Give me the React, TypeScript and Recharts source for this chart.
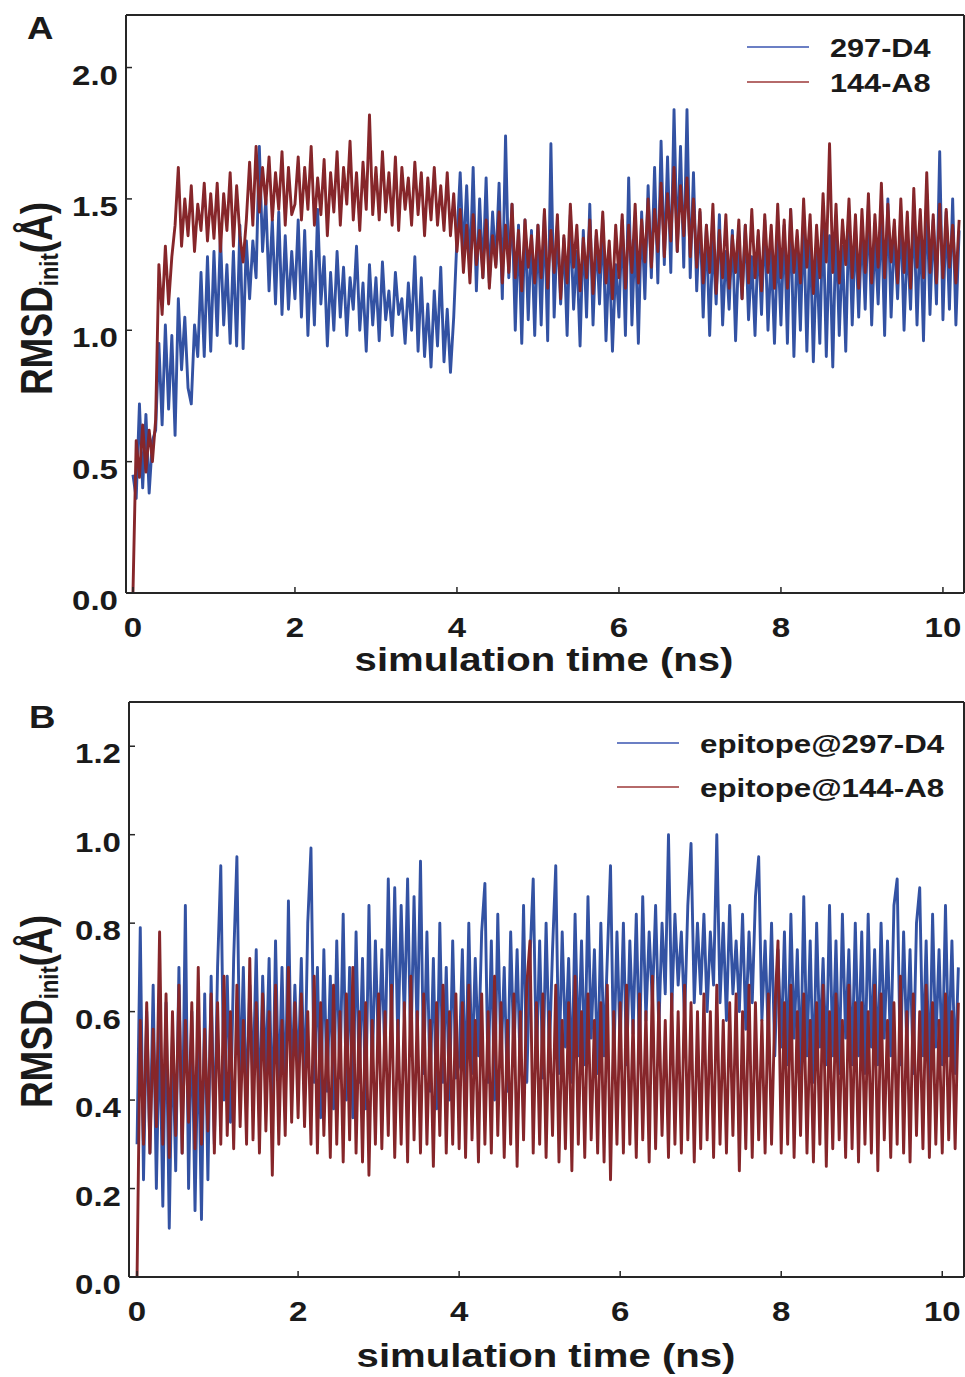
import { LineChart, Line, XAxis, YAxis, Legend } from 'recharts';

// MD frames, one sample every 40 ps
const STEP_NS = 0.04;

/* ------------------------------------------------------------------ */
/*  Panel A: RMSD of the whole complex                                 */
/* ------------------------------------------------------------------ */
const rmsdA_297D4 = [
  0.45, 0.36, 0.72, 0.40, 0.68, 0.38, 0.58, 0.62, 0.95, 0.64, 1.02, 0.70, 0.98, 0.60, 1.12, 0.85, 1.05, 0.78, 0.72, 1.02, 0.90, 1.22, 0.90, 1.28, 0.92,
  1.30, 0.98, 1.36, 1.02, 1.25, 0.95, 1.30, 0.94, 1.40, 0.93, 1.34, 1.12, 1.34, 1.20, 1.70, 1.30, 1.50, 1.15, 1.42, 1.10, 1.45, 1.06, 1.36, 1.08, 1.30,
  1.12, 1.42, 1.05, 1.38, 0.98, 1.30, 1.02, 1.46, 1.10, 1.28, 0.94, 1.22, 1.00, 1.30, 1.05, 1.24, 0.98, 1.20, 1.08, 1.32, 1.00, 1.18, 0.92, 1.25, 1.02,
  1.20, 0.96, 1.26, 1.04, 1.15, 0.98, 1.22, 1.06, 1.12, 0.95, 1.18, 1.00, 1.28, 0.92, 1.20, 0.90, 1.10, 0.86, 1.15, 0.94, 1.24, 0.88, 1.08, 0.84, 1.05,
  1.35, 1.60, 1.28, 1.55, 1.22, 1.62, 1.15, 1.50, 1.20, 1.58, 1.18, 1.45, 1.25, 1.56, 1.12, 1.74, 1.20, 1.48, 1.00, 1.40, 0.95, 1.42, 1.04, 1.38, 0.98,
  1.40, 1.02, 1.45, 0.96, 1.71, 1.05, 1.40, 1.10, 1.35, 0.98, 1.44, 1.08, 1.30, 0.94, 1.38, 1.05, 1.48, 1.02, 1.36, 1.10, 1.42, 0.96, 1.30, 0.92, 1.25,
  1.05, 1.42, 0.98, 1.58, 1.02, 1.38, 0.95, 1.45, 1.12, 1.55, 1.20, 1.62, 1.18, 1.72, 1.25, 1.66, 1.22, 1.84, 1.30, 1.70, 1.24, 1.84, 1.20, 1.60, 1.15,
  1.45, 1.05, 1.40, 0.98, 1.35, 1.10, 1.44, 1.02, 1.30, 1.08, 1.38, 0.96, 1.32, 1.12, 1.40, 1.04, 1.28, 0.98, 1.36, 1.06, 1.42, 1.00, 1.30, 0.95, 1.34,
  1.02, 1.40, 0.95, 1.46, 0.90, 1.35, 1.00, 1.42, 0.92, 1.38, 0.88, 1.30, 0.95, 1.44, 0.90, 1.36, 0.86, 1.40, 0.98, 1.32, 0.92, 1.45, 1.02, 1.38, 1.05,
  1.40, 1.08, 1.48, 1.02, 1.36, 1.10, 1.45, 0.98, 1.50, 1.05, 1.38, 1.12, 1.44, 1.00, 1.35, 1.08, 1.46, 1.02, 1.40, 0.96, 1.52, 1.06, 1.42, 1.10, 1.68,
  1.04, 1.45, 1.08, 1.50, 1.02, 1.38,
];

const rmsdA_144A8 = [
  0.00, 0.58, 0.44, 0.64, 0.46, 0.62, 0.50, 0.66, 1.25, 1.06, 1.32, 1.10, 1.28, 1.40, 1.62, 1.32, 1.50, 1.36, 1.55, 1.30, 1.48, 1.38, 1.56, 1.34, 1.52,
  1.35, 1.56, 1.30, 1.52, 1.38, 1.60, 1.32, 1.55, 1.36, 1.26, 1.42, 1.64, 1.40, 1.70, 1.45, 1.62, 1.48, 1.66, 1.42, 1.60, 1.46, 1.68, 1.40, 1.62, 1.44,
  1.48, 1.66, 1.42, 1.62, 1.46, 1.70, 1.40, 1.58, 1.44, 1.65, 1.36, 1.60, 1.45, 1.68, 1.40, 1.62, 1.48, 1.72, 1.42, 1.60, 1.38, 1.64, 1.46, 1.82, 1.44,
  1.62, 1.42, 1.68, 1.45, 1.60, 1.40, 1.66, 1.38, 1.62, 1.46, 1.58, 1.40, 1.64, 1.44, 1.60, 1.36, 1.58, 1.42, 1.62, 1.40, 1.55, 1.38, 1.60, 1.36, 1.52,
  1.30, 1.46, 1.22, 1.40, 1.18, 1.44, 1.25, 1.38, 1.20, 1.42, 1.16, 1.36, 1.24, 1.45, 1.18, 1.40, 1.22, 1.48, 1.20, 1.38, 1.15, 1.42, 1.24, 1.36, 1.18,
  1.40, 1.20, 1.46, 1.16, 1.38, 1.22, 1.44, 1.12, 1.36, 1.18, 1.48, 1.24, 1.40, 1.15, 1.35, 1.20, 1.42, 1.14, 1.38, 1.22, 1.45, 1.18, 1.34, 1.12, 1.40,
  1.20, 1.44, 1.16, 1.40, 1.22, 1.48, 1.18, 1.42, 1.26, 1.50, 1.24, 1.46, 1.30, 1.56, 1.28, 1.52, 1.34, 1.62, 1.30, 1.55, 1.36, 1.58, 1.28, 1.50, 1.24,
  1.46, 1.18, 1.40, 1.22, 1.48, 1.14, 1.38, 1.20, 1.44, 1.16, 1.36, 1.22, 1.42, 1.12, 1.40, 1.18, 1.46, 1.20, 1.38, 1.15, 1.44, 1.22, 1.40, 1.16, 1.48,
  1.20, 1.42, 1.16, 1.46, 1.22, 1.38, 1.18, 1.50, 1.24, 1.44, 1.14, 1.40, 1.20, 1.52, 1.26, 1.71, 1.22, 1.48, 1.18, 1.42, 1.25, 1.50, 1.20, 1.44, 1.16,
  1.46, 1.22, 1.52, 1.18, 1.44, 1.24, 1.56, 1.20, 1.48, 1.26, 1.42, 1.18, 1.50, 1.22, 1.45, 1.16, 1.54, 1.24, 1.46, 1.20, 1.60, 1.22, 1.44, 1.18, 1.48,
  1.20, 1.46, 1.24, 1.40, 1.18, 1.42,
];

/* ------------------------------------------------------------------ */
/*  Panel B: RMSD of the epitope                                       */
/* ------------------------------------------------------------------ */
const rmsdB_297D4 = [
  0.30, 0.79, 0.22, 0.60, 0.28, 0.66, 0.20, 0.58, 0.16, 0.62, 0.11, 0.55, 0.24, 0.70, 0.28, 0.84, 0.20, 0.60, 0.15, 0.56, 0.13, 0.64, 0.22, 0.68, 0.30,
  0.70, 0.93, 0.40, 0.68, 0.35, 0.72, 0.95, 0.42, 0.70, 0.38, 0.66, 0.44, 0.74, 0.36, 0.68, 0.45, 0.72, 0.34, 0.76, 0.40, 0.70, 0.38, 0.85, 0.42, 0.66,
  0.45, 0.72, 0.40, 0.80, 0.97, 0.44, 0.70, 0.36, 0.74, 0.42, 0.68, 0.38, 0.76, 0.45, 0.82, 0.40, 0.70, 0.36, 0.78, 0.44, 0.72, 0.38, 0.84, 0.46, 0.76,
  0.50, 0.74, 0.48, 0.90, 0.55, 0.88, 0.52, 0.84, 0.58, 0.90, 0.50, 0.86, 0.54, 0.94, 0.46, 0.78, 0.42, 0.72, 0.38, 0.80, 0.44, 0.70, 0.40, 0.76, 0.45,
  0.48, 0.74, 0.42, 0.80, 0.46, 0.72, 0.50, 0.78, 0.89, 0.44, 0.76, 0.40, 0.82, 0.48, 0.70, 0.42, 0.78, 0.50, 0.74, 0.46, 0.84, 0.44, 0.72, 0.90, 0.48,
  0.76, 0.45, 0.80, 0.50, 0.74, 0.93, 0.46, 0.78, 0.52, 0.72, 0.44, 0.82, 0.50, 0.76, 0.48, 0.86, 0.54, 0.74, 0.46, 0.80, 0.50, 0.72, 0.93, 0.48, 0.78,
  0.52, 0.80, 0.48, 0.76, 0.55, 0.82, 0.50, 0.86, 0.58, 0.78, 0.62, 0.84, 0.56, 0.80, 0.64, 1.00, 0.60, 0.82, 0.66, 0.78, 0.58, 0.84, 0.98, 0.62, 0.80,
  0.64, 0.82, 0.60, 0.78, 0.66, 1.00, 0.62, 0.80, 0.58, 0.84, 0.64, 0.76, 0.60, 0.82, 0.56, 0.78, 0.62, 0.86, 0.95, 0.58, 0.76, 0.54, 0.80, 0.50, 0.74,
  0.52, 0.78, 0.48, 0.82, 0.54, 0.74, 0.46, 0.86, 0.50, 0.76, 0.44, 0.80, 0.52, 0.72, 0.48, 0.84, 0.50, 0.76, 0.46, 0.82, 0.54, 0.74, 0.48, 0.80, 0.50,
  0.78, 0.46, 0.82, 0.52, 0.74, 0.48, 0.80, 0.54, 0.76, 0.50, 0.84, 0.90, 0.48, 0.78, 0.52, 0.74, 0.46, 0.80, 0.88, 0.50, 0.76, 0.44, 0.82, 0.52, 0.74,
  0.48, 0.84, 0.50, 0.76, 0.46, 0.70,
];

const rmsdB_144A8 = [
  0.00, 0.58, 0.30, 0.62, 0.28, 0.56, 0.34, 0.78, 0.30, 0.64, 0.27, 0.60, 0.32, 0.66, 0.28, 0.58, 0.35, 0.62, 0.29, 0.70, 0.30, 0.56, 0.33, 0.64, 0.28,
  0.62, 0.30, 0.68, 0.32, 0.60, 0.29, 0.66, 0.34, 0.58, 0.30, 0.72, 0.31, 0.62, 0.28, 0.64, 0.33, 0.60, 0.23, 0.66, 0.30, 0.58, 0.32, 0.70, 0.35, 0.62,
  0.36, 0.64, 0.34, 0.60, 0.30, 0.68, 0.28, 0.62, 0.32, 0.58, 0.27, 0.66, 0.30, 0.60, 0.26, 0.64, 0.31, 0.70, 0.28, 0.60, 0.26, 0.62, 0.23, 0.58, 0.30,
  0.64, 0.29, 0.60, 0.32, 0.66, 0.27, 0.58, 0.30, 0.62, 0.26, 0.68, 0.31, 0.60, 0.28, 0.64, 0.30, 0.58, 0.25, 0.62, 0.32, 0.66, 0.28, 0.60, 0.30, 0.64,
  0.29, 0.62, 0.27, 0.66, 0.31, 0.58, 0.26, 0.64, 0.30, 0.60, 0.28, 0.68, 0.32, 0.62, 0.27, 0.58, 0.30, 0.64, 0.25, 0.60, 0.31, 0.66, 0.76, 0.28, 0.62,
  0.30, 0.64, 0.27, 0.60, 0.32, 0.66, 0.26, 0.58, 0.29, 0.62, 0.24, 0.68, 0.30, 0.60, 0.27, 0.64, 0.31, 0.58, 0.28, 0.62, 0.26, 0.66, 0.22, 0.60, 0.30,
  0.62, 0.28, 0.66, 0.30, 0.58, 0.27, 0.64, 0.31, 0.60, 0.26, 0.68, 0.29, 0.62, 0.32, 0.58, 0.27, 0.64, 0.30, 0.60, 0.28, 0.66, 0.31, 0.62, 0.26, 0.60,
  0.29, 0.64, 0.31, 0.60, 0.27, 0.66, 0.30, 0.58, 0.28, 0.62, 0.32, 0.64, 0.24, 0.60, 0.29, 0.66, 0.27, 0.62, 0.31, 0.58, 0.28, 0.64, 0.30, 0.60, 0.76,
  0.28, 0.62, 0.30, 0.66, 0.27, 0.60, 0.32, 0.64, 0.28, 0.58, 0.26, 0.62, 0.30, 0.66, 0.25, 0.60, 0.29, 0.64, 0.31, 0.58, 0.27, 0.66, 0.29, 0.62, 0.26,
  0.62, 0.30, 0.60, 0.28, 0.66, 0.24, 0.64, 0.31, 0.58, 0.27, 0.62, 0.30, 0.68, 0.28, 0.60, 0.26, 0.64, 0.32, 0.60, 0.29, 0.66, 0.27, 0.62, 0.30, 0.58,
  0.28, 0.64, 0.31, 0.60, 0.29, 0.62,
];

const namesA = ['297-D4', '144-A8'];
const namesB = ['epitope@297-D4', 'epitope@144-A8'];
const lineColors = ['#3352a3', '#86262a'];
const legendColors = ['#6b7fc4', '#b56a6a'];
const xTicks = [0, 2, 4, 6, 8, 10];
const yTicksA = [0, 0.5, 1, 1.5, 2];
const yTicksB = [0, 0.2, 0.4, 0.6, 0.8, 1, 1.2];

const FONT = '"Liberation Sans", Arial, Helvetica, sans-serif';
const SX = 1.18; // the original lettering is stretched sideways
const INK = '#1a1a1a';
const FRAME = '#262626';

function buildRows(d4: number[], a8: number[]) {
  return d4.map((v, i) => ({ t: Math.round(i * STEP_NS * 100) / 100, d4: v, a8: a8[i] }));
}

const rowsA = buildRows(rmsdA_297D4, rmsdA_144A8);
const rowsB = buildRows(rmsdB_297D4, rmsdB_144A8);

function WideText({ x, y, size, anchor = 'start', children }: any) {
  return (
    <text
      transform={`translate(${x},${y}) scale(${SX},1)`}
      textAnchor={anchor}
      fontSize={size}
      fontWeight="bold"
      fontFamily={FONT}
      fill={INK}
    >
      {children}
    </text>
  );
}

const LeftTick = (props: any) => (
  <WideText x={props.x} y={props.y + 17} size={28} anchor="end">
    {Number(props.payload.value).toFixed(1)}
  </WideText>
);

const BottomTick = (props: any) => (
  <WideText x={props.x} y={props.y + 20} size={28} anchor="middle">
    {props.payload.value}
  </WideText>
);

function YTitle({ x, y }: { x: number; y: number }) {
  return (
    <text
      transform={`translate(${x},${y}) rotate(-90) scale(1,${SX})`}
      textAnchor="middle"
      fontSize={37}
      fontWeight="bold"
      fontFamily={FONT}
      fill={INK}
    >
      RMSD
      <tspan fontSize={22} dy={5}>init</tspan>
      <tspan dy={-5}>(Å)</tspan>
    </text>
  );
}

function LegendBox({ payload, names, rowY, size }: any) {
  const items = [...(payload || [])].sort(
    (a: any, b: any) => names.indexOf(a.value) - names.indexOf(b.value)
  );
  return (
    <svg width="100%" height="100%" style={{ overflow: 'visible' }}>
      {items.map((it: any) => {
        const k = names.indexOf(it.value);
        return (
          <g key={it.value}>
            <line x1={7} x2={69} y1={rowY[k]} y2={rowY[k]} stroke={legendColors[k]} strokeWidth={2} />
            <WideText x={90} y={rowY[k] + 10} size={size}>
              {it.value}
            </WideText>
          </g>
        );
      })}
    </svg>
  );
}

interface PanelProps {
  rows: any[];
  names: string[];
  top: number;
  height: number;
  margin: { top: number; right: number; bottom: number; left: number };
  xDomain: [number, number];
  yMax: number;
  yTicks: number[];
  letter: string;
  letterAt: [number, number];
  xTitleAt: [number, number];
  yTitleAt: [number, number];
  legendBox: { left: number; top: number; width: number; height: number };
  legendRows: number[];
  legendSize: number;
}

function Panel(p: PanelProps) {
  const axisLine = { stroke: FRAME, strokeWidth: 2 };
  const tickLine = { stroke: FRAME, strokeWidth: 1.5 };
  return (
    <div style={{ position: 'absolute', left: 0, top: p.top }}>
      <LineChart width={965} height={p.height} data={p.rows} margin={p.margin}>
        <XAxis
          dataKey="t"
          type="number"
          domain={p.xDomain}
          allowDataOverflow
          ticks={xTicks}
          interval={0}
          height={40}
          axisLine={axisLine}
          tickLine={tickLine}
          tickSize={-6}
          tickMargin={30}
          tick={BottomTick}
          label={() => (
            <WideText x={p.xTitleAt[0]} y={p.xTitleAt[1]} size={34} anchor="middle">
              simulation time (ns)
            </WideText>
          )}
        />
        {/* top edge of the frame, axis of height 1 sits flush with the plot */}
        <XAxis
          xAxisId="top"
          orientation="top"
          dataKey="t"
          type="number"
          domain={p.xDomain}
          allowDataOverflow
          ticks={xTicks}
          interval={0}
          height={1}
          mirror
          axisLine={axisLine}
          tickLine={tickLine}
          tickSize={6}
          tick={false}
          label={() => (
            <WideText x={p.letterAt[0]} y={p.letterAt[1]} size={31}>
              {p.letter}
            </WideText>
          )}
        />
        <YAxis
          type="number"
          domain={[0, p.yMax]}
          allowDataOverflow
          ticks={p.yTicks}
          interval={0}
          width={60}
          axisLine={axisLine}
          tickLine={tickLine}
          tickSize={-6}
          tickMargin={14}
          tick={LeftTick}
          label={() => <YTitle x={p.yTitleAt[0]} y={p.yTitleAt[1]} />}
        />
        <YAxis
          yAxisId="right"
          orientation="right"
          type="number"
          domain={[0, p.yMax]}
          allowDataOverflow
          ticks={p.yTicks}
          interval={0}
          width={1}
          mirror
          axisLine={axisLine}
          tickLine={tickLine}
          tickSize={6}
          tick={false}
        />
        <Legend
          layout="vertical"
          align="center"
          verticalAlign="middle"
          wrapperStyle={{ position: 'absolute', ...p.legendBox }}
          content={(lp: any) => (
            <LegendBox payload={lp.payload} names={p.names} rowY={p.legendRows} size={p.legendSize} />
          )}
        />
        <Line
          type="linear"
          dataKey="d4"
          name={p.names[0]}
          stroke={lineColors[0]}
          strokeWidth={2.9}
          strokeLinejoin="round"
          dot={false}
          isAnimationActive={false}
        />
        <Line
          type="linear"
          dataKey="a8"
          name={p.names[1]}
          stroke={lineColors[1]}
          strokeWidth={2.9}
          strokeLinejoin="round"
          dot={false}
          isAnimationActive={false}
        />
      </LineChart>
    </div>
  );
}

export default function App() {
  return (
    <div
      style={{
        position: 'absolute',
        left: 0,
        top: 0,
        width: 965,
        height: 1377,
        background: '#fff',
        overflow: 'hidden',
      }}
    >
      <Panel
        rows={rowsA}
        names={namesA}
        top={0}
        height={700}
        margin={{ top: 15, right: 1, bottom: 67, left: 66 }}
        xDomain={[-0.086, 10.26]}
        yMax={2.2}
        yTicks={yTicksA}
        letter="A"
        letterAt={[27, 39]}
        xTitleAt={[544, 671]}
        yTitleAt={[52, 298.5]}
        legendBox={{ left: 740, top: 25, width: 220, height: 80 }}
        legendRows={[22, 57]}
        legendSize={26}
      />
      <Panel
        rows={rowsB}
        names={namesB}
        top={690}
        height={687}
        margin={{ top: 12, right: 1, bottom: 60, left: 69 }}
        xDomain={[-0.1, 10.27]}
        yMax={1.3}
        yTicks={yTicksB}
        letter="B"
        letterAt={[29, 38]}
        xTitleAt={[546, 677]}
        yTitleAt={[52, 321.5]}
        legendBox={{ left: 610, top: 35, width: 350, height: 90 }}
        legendRows={[18, 62]}
        legendSize={26.5}
      />
    </div>
  );
}
